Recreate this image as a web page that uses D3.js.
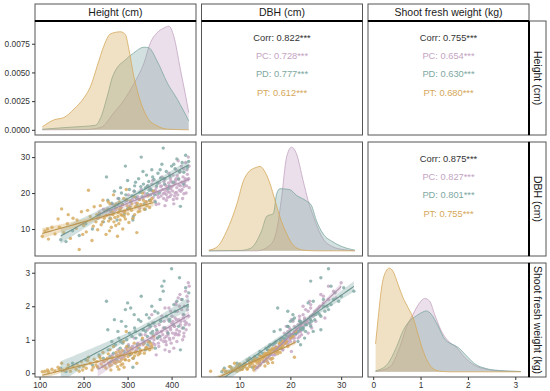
<!DOCTYPE html>
<html>
<head>
<meta charset="utf-8">
<script src="https://cdn.jsdelivr.net/npm/d3@7"></script>
<style>
  body { margin: 0; background: #fff; }
  svg { font-family: "Liberation Sans", Arial, sans-serif; }
</style>
</head>
<body>
<div id="chart"></div>
<script>
// ------- Data -------
const groups = ["PC", "PD", "PT"];
const groupColors = ["#c4a4c2", "#7ea8a2", "#d5a85a"];
const varNames = ["Height (cm)", "DBH (cm)", "Shoot fresh weight (kg)"];

// axis limits and ticks per variable
const varDomains = [[89.5, 455.5], [2.5, 34.2], [-0.11, 3.29]];
const varTicks = [[100, 200, 300, 400], [10, 20, 30], [0, 1, 2, 3]];
const heightDensTicks = [0, 0.0025, 0.005, 0.0075];

// correlations: pairs (Height,DBH), (Height,Weight), (DBH,Weight)
const corrAll = ["0.822", "0.755", "0.875"];
const corrPC = ["0.728", "0.654", "0.827"];
const corrPD = ["0.777", "0.630", "0.801"];
const corrPT = ["0.612", "0.680", "0.755"];

// trees: [height, dbh, shoot fresh weight]
const pcTrees = [
  [232,13.0,0.20],[245,15.5,0.35],[258,14.0,0.30],[265,17.0,0.55],[272,15.2,0.40],[278,18.5,0.70],
  [285,16.0,0.45],[290,14.8,0.50],[296,17.8,0.75],[302,19.5,0.85],[306,16.5,0.55],[311,18.2,0.80],
  [315,20.5,1.05],[319,17.2,0.65],[323,19.0,0.90],[327,15.8,0.60],[331,21.0,1.15],[335,18.6,0.85],
  [338,20.0,0.95],[342,17.5,0.75],[345,22.0,1.30],[348,19.4,0.95],[351,18.0,0.80],[354,20.8,1.05],
  [357,23.5,1.50],[360,19.8,1.00],[362,17.8,0.85],[365,21.5,1.20],[367,20.2,1.05],[370,18.8,0.90],
  [372,22.8,1.45],[374,20.5,1.10],[376,19.2,1.00],[378,24.5,1.70],[380,21.0,1.15],[382,18.5,0.95],
  [384,20.0,1.05],[386,22.2,1.35],[388,19.6,1.10],[390,21.8,1.25],[392,20.4,1.15],[394,25.5,1.95],
  [396,19.0,1.00],[398,21.2,1.30],[400,23.0,1.50],[402,20.6,1.20],[404,18.2,1.05],[406,22.5,1.40],
  [408,20.0,1.15],[410,26.5,2.10],[412,21.5,1.30],[414,19.5,1.15],[416,23.8,1.60],[418,20.8,1.25],
  [420,22.0,1.45],[422,27.5,2.20],[424,21.0,1.35],[426,24.5,1.75],[428,19.8,1.20],[430,23.2,1.55],
  [432,28.5,2.45],[434,22.0,1.50],[436,25.2,1.90],[438,30.0,2.70],[439,24.0,1.70],[440,21.5,1.45],
  [395,20.2,0.65],[405,17.0,0.75],[385,16.5,0.70],[415,29.0,2.25],[425,18.5,1.00],[375,21.8,1.60],
  [355,22.5,1.75],[365,16.8,0.55],[410,24.0,2.05],[435,26.5,2.30],[398,23.5,1.85],[418,25.8,2.00],
  [388,18.0,0.85],[428,21.8,1.10],[368,19.5,1.25],[408,22.8,1.65],
  [300,15.5,0.60],[320,18.5,0.70],[340,19.2,1.15],[350,21.5,1.35],[358,18.8,0.90],[363,20.8,1.40],
  [371,17.0,0.80],[377,22.0,1.25],[381,19.8,1.35],[383,23.2,1.55],[387,20.8,0.95],[391,18.8,1.20],
  [393,22.8,1.60],[397,24.2,1.35],[399,19.5,0.90],[401,21.8,1.70],[403,25.0,1.55],[407,19.2,1.40],
  [409,23.5,1.20],[411,20.2,1.60],[413,24.8,1.85],[417,22.2,1.15],[419,26.0,2.35],[421,20.5,1.55],
  [423,23.0,1.90],[427,26.8,1.65],[429,22.5,2.00],[431,24.0,1.45],[433,20.0,1.30],[437,23.8,2.15],
  [440,27.5,2.60],[412,18.5,0.95],[395,21.5,1.05],[385,24.0,1.95]
];
const pdTrees = [
  [148,7.0,0.15],[160,6.5,0.05],[175,9.5,0.30],[190,8.2,0.20],[205,11.5,0.40],[220,10.0,0.25],
  [235,13.8,0.55],[245,12.0,0.45],[252,24.5,2.15],[256,15.5,0.70],[260,13.0,0.50],[264,17.2,0.95],
  [268,14.5,0.60],[272,16.0,0.85],[276,12.5,0.40],[280,18.5,1.05],[283,15.2,0.75],[286,20.0,1.55],
  [289,16.8,0.90],[292,14.0,0.65],[295,27.5,1.90],[298,18.0,1.00],[301,15.8,0.80],[304,21.0,1.20],
  [307,17.5,1.95],[310,19.2,1.10],[313,13.5,0.45],[316,22.0,1.35],[319,18.8,1.05],[322,16.5,0.85],
  [325,24.0,1.60],[328,20.2,1.15],[331,30.0,2.30],[333,19.0,1.00],[336,22.5,1.30],[338,17.0,0.90],
  [341,21.5,1.25],[343,25.0,1.75],[345,19.8,1.10],[348,23.2,1.45],[350,18.0,0.95],[353,21.0,1.20],
  [355,26.5,2.00],[358,20.5,1.15],[360,23.8,1.50],[363,17.5,0.75],[366,22.0,1.30],[369,25.5,1.80],
  [372,20.0,1.10],[375,24.2,1.55],[378,28.0,2.60],[381,32.5,2.45],[384,22.5,1.35],[388,26.0,1.70],
  [392,21.2,1.20],[396,24.8,1.60],[400,27.5,3.12],[404,23.0,1.45],[408,26.8,1.85],[412,29.5,2.15],
  [416,24.0,1.40],[420,16.3,0.70],[424,28.5,2.20],[428,25.8,1.75],[432,30.5,2.55],[436,27.2,2.00],
  [439,28.8,2.40],[300,23.5,2.10],[270,20.5,1.60],[340,15.5,0.70],[312,12.5,0.18],[352,19.5,1.40],
  [255,18.0,1.30],[262,14.8,0.35],[278,16.8,1.25],[284,21.5,0.95],[296,19.5,1.40],[305,16.0,0.55],
  [315,20.5,1.75],[318,23.0,1.25],[326,18.2,0.75],[330,21.8,1.55],[335,26.0,1.30],[346,22.0,0.85],
  [349,20.8,1.65],[357,24.5,1.25],[362,19.5,1.85],[368,22.8,1.05],[374,26.5,2.20],[383,24.0,2.75],
  [395,22.0,1.55],[405,28.0,2.05],[418,26.0,2.85],[427,22.5,1.35]
];
const ptTrees = [
  [106,8.0,0.05],[112,9.5,0.06],[120,7.2,0.05],[128,10.5,0.12],[135,8.6,0.07],[142,12.8,0.18],
  [150,15.6,0.30],[155,9.0,0.08],[163,11.5,0.15],[170,7.4,0.06],[176,13.0,0.22],[183,10.2,0.12],
  [190,4.3,0.06],[195,14.8,0.35],[200,11.0,0.20],[206,9.2,0.15],[211,20.8,0.48],[215,13.5,0.30],
  [219,6.8,0.10],[224,16.2,0.42],[228,12.0,0.25],[232,9.8,0.18],[236,14.5,0.50],[240,11.2,0.28],
  [244,18.0,0.62],[247,13.0,0.35],[251,8.5,0.15],[254,15.5,0.45],[257,12.2,0.30],[260,17.0,0.70],
  [263,10.5,0.25],[266,14.0,0.40],[268,19.5,0.80],[271,13.2,0.38],[273,11.0,0.30],[275,15.8,0.55],
  [277,8.0,0.20],[279,14.6,0.48],[281,17.5,0.65],[283,12.5,0.35],[285,16.0,0.60],[287,13.8,0.42],
  [289,10.0,0.28],[291,18.5,0.95],[293,15.0,0.52],[295,12.8,0.40],[297,21.0,1.25],[299,16.5,0.70],
  [301,14.2,0.50],[303,11.8,0.38],[306,17.8,0.75],[309,15.2,0.58],[312,13.0,0.45],[315,19.0,0.90],
  [318,16.2,0.62],[321,9.0,0.30],[324,14.8,0.55],[327,18.2,0.85],[330,16.8,0.68],[334,20.0,1.05],
  [338,15.5,0.60],[342,17.6,0.78],[346,19.2,0.95],[350,16.0,0.70],[355,18.5,0.82],[359,20.5,1.10],
  [262,12.8,0.10],[280,11.5,0.12],[248,15.0,0.22],[292,13.5,0.18],[270,16.5,0.32],[285,14.0,0.25],
  [118,10.0,0.10],[145,10.5,0.12],[165,14.0,0.25],[185,12.5,0.28],[198,8.5,0.10],[209,15.2,0.38],
  [222,10.8,0.18],[230,14.0,0.35],[238,16.5,0.45],[243,12.0,0.20],[252,13.8,0.40],[256,17.5,0.58],
  [259,9.5,0.22],[265,15.0,0.48],[269,12.0,0.32],[274,17.0,0.62],[278,13.5,0.35],[282,15.5,0.55],
  [288,16.8,0.68],[294,14.5,0.42],[298,18.2,0.80],[305,15.8,0.65],[310,17.0,0.72],[316,14.0,0.52],
  [322,17.2,0.78],[328,15.0,0.60],[336,18.0,0.88],[344,16.5,0.75],[352,17.8,0.90]
];

// density curves: [x, density]
const heightDensPC = [[106,0],[201,0.00002],[239,0.0002],[269,0.0015],[292,0.0026],[314,0.004],[337,0.0058],
  [352,0.0076],[367,0.00845],[383,0.00888],[394,0.00903],[405,0.00816],[420,0.00527],[432,0.00295],[439,0.0015]];
const heightDensPD = [[106,0.00005],[160,0.0002],[200,0.0003],[227,0.0004],[239,0.00107],[254,0.00295],
  [265,0.00454],[276,0.0054],[292,0.006],[314,0.0067],[337,0.0072],[348,0.00715],[367,0.006],[390,0.0041],
  [413,0.00266],[439,0.00078]];
const heightDensPT = [[106,0.00026],[133,0.00087],[155,0.00107],[178,0.0018],[201,0.0028],[216,0.0038],
  [231,0.00556],[246,0.0073],[261,0.00836],[284,0.00854],[295,0.0083],[303,0.0070],[314,0.0047],[330,0.0024],
  [345,0.00107],[367,0.00035],[390,0.00006],[439,0]];

const dbhDensPC = [[3.95,0],[13.4,0],[16.0,0.0085],[17.3,0.031],[18.28,0.081],[19.25,0.141],[20.23,0.156],
  [21.2,0.146],[22.5,0.106],[23.48,0.076],[24.46,0.0535],[25.44,0.0335],[26.4,0.0185],[28.37,0.006],
  [30.3,0.002],[32.7,0]];
const dbhDensPD = [[3.95,0],[10.14,0.0005],[12.09,0.0035],[14.37,0.031],[15.35,0.052],[16.65,0.056],
  [17.3,0.086],[17.95,0.0935],[19.9,0.092],[21.2,0.0835],[23.16,0.075],[24.13,0.0685],[25.1,0.046],
  [26.4,0.026],[28.37,0.0135],[30.3,0.006],[32.7,0.001]];
const dbhDensPT = [[3.95,0.001],[5.58,0.006],[7.53,0.031],[9.49,0.071],[10.79,0.106],[11.76,0.1185],
  [13.07,0.125],[14.04,0.127],[15.02,0.1185],[16.0,0.101],[16.97,0.076],[17.95,0.051],[19.25,0.026],
  [20.55,0.0085],[22.5,0.001],[25.1,0],[32.7,0]];

const weightDensPC = [[0.05,0.005],[0.351,0.075],[0.561,0.375],[0.701,0.675],[0.841,0.875],[0.981,1.05],
  [1.086,1.115],[1.191,1.075],[1.296,0.875],[1.436,0.625],[1.576,0.475],[1.751,0.375],[1.926,0.225],
  [2.136,0.1],[2.381,0.04],[2.661,0.015],[3.117,0.005]];
const weightDensPD = [[0.05,0.015],[0.281,0.1],[0.491,0.375],[0.631,0.625],[0.771,0.775],[0.911,0.85],
  [1.051,0.91],[1.121,0.925],[1.226,0.875],[1.366,0.7],[1.506,0.5],[1.646,0.425],[1.786,0.375],
  [1.961,0.25],[2.136,0.125],[2.381,0.05],[2.661,0.02],[3.117,0.005]];
const weightDensPT = [[0.05,0.425],[0.106,0.825],[0.176,1.275],[0.267,1.525],[0.337,1.575],[0.421,1.525],
  [0.526,1.325],[0.631,1.125],[0.736,0.975],[0.841,0.825],[0.946,0.575],[1.051,0.325],[1.156,0.15],
  [1.261,0.05],[1.401,0.01],[1.611,0],[3.117,0]];

// ------- Layout -------
const W = 550, H = 391;
const colX = [35, 201.5, 368], pw = 161;
const rowY = [21, 142, 263], ph = 114;

const trees = [pcTrees, pdTrees, ptTrees];
const densities = [
  [heightDensPC, heightDensPD, heightDensPT],
  [dbhDensPC, dbhDensPD, dbhDensPT],
  [weightDensPC, weightDensPD, weightDensPT]
];
const corrGroups = [corrPC, corrPD, corrPT];

const svg = d3.select("#chart").append("svg")
  .attr("width", W).attr("height", H);

const xs = varDomains.map((d, i) => d3.scaleLinear().domain(d).range([colX[i], colX[i] + pw]));
const ys = varDomains.map((d, i) => d3.scaleLinear().domain(d).range([rowY[i] + ph, rowY[i]]));

// density y scales, 5% expansion around the curves
const densY = densities.map((set, i) => {
  const mx = d3.max(set, a => d3.max(a, d => d[1]));
  return d3.scaleLinear().domain([-0.05 * mx, 1.05 * mx]).range([rowY[i] + ph, rowY[i]]);
});

const defs = svg.append("defs");
for (let r = 0; r < 3; r++) {
  for (let c = 0; c < 3; c++) {
    defs.append("clipPath").attr("id", `clip-${r}-${c}`)
      .append("rect").attr("x", colX[c]).attr("y", rowY[r]).attr("width", pw).attr("height", ph);
  }
}

// simple least squares fit with confidence band
function lm(pts) {
  const n = pts.length;
  const mx = d3.mean(pts, p => p[0]), my = d3.mean(pts, p => p[1]);
  let sxx = 0, sxy = 0;
  pts.forEach(p => { sxx += (p[0] - mx) ** 2; sxy += (p[0] - mx) * (p[1] - my); });
  const b = sxy / sxx, a = my - b * mx;
  let sse = 0;
  pts.forEach(p => { sse += (p[1] - a - b * p[0]) ** 2; });
  const s2 = sse / (n - 2);
  const t = 1.98;
  return x => {
    const fit = a + b * x;
    const se = Math.sqrt(s2 * (1 / n + (x - mx) ** 2 / sxx));
    return [fit, fit - t * se, fit + t * se];
  };
}

// ------- Panels -------
for (let r = 0; r < 3; r++) {
  for (let c = 0; c < 3; c++) {
    const g = svg.append("g").attr("clip-path", `url(#clip-${r}-${c})`);
    g.append("rect").attr("x", colX[c]).attr("y", rowY[r])
      .attr("width", pw).attr("height", ph).attr("fill", "#fff");

    if (r === c) {
      // density
      const x = xs[c], y = densY[c];
      const area = d3.area().x(d => x(d[0])).y0(y(0)).y1(d => y(d[1])).curve(d3.curveMonotoneX);
      const line = d3.line().x(d => x(d[0])).y(d => y(d[1])).curve(d3.curveMonotoneX);
      groups.forEach((grp, gi) => {
        const dd = densities[c][gi];
        g.append("path").attr("d", area(dd))
          .attr("fill", groupColors[gi]).attr("fill-opacity", 0.35);
        g.append("path").attr("d", line(dd))
          .attr("fill", "none").attr("stroke", groupColors[gi]).attr("stroke-width", 0.8);
      });
    } else if (r > c) {
      // scatter + lm
      const x = xs[c], y = ys[r];
      groups.forEach((grp, gi) => {
        g.append("g").selectAll("circle")
          .data(trees[gi])
          .enter().append("circle")
          .attr("cx", d => x(d[c]))
          .attr("cy", d => y(d[r]))
          .attr("r", 1.7)
          .attr("fill", groupColors[gi])
          .attr("opacity", 0.8);
      });
      groups.forEach((grp, gi) => {
        const pts = trees[gi].map(d => [d[c], d[r]]);
        const f = lm(pts);
        const ext = d3.extent(pts, p => p[0]);
        const grid = d3.range(41).map(i => ext[0] + (ext[1] - ext[0]) * i / 40);
        const fits = grid.map(v => [v, ...f(v)]);
        g.append("path")
          .attr("d", d3.area().x(d => x(d[0])).y0(d => y(d[2])).y1(d => y(d[3]))(fits))
          .attr("fill", groupColors[gi]).attr("fill-opacity", 0.35);
        g.append("path")
          .attr("d", d3.line().x(d => x(d[0])).y(d => y(d[1]))(fits))
          .attr("fill", "none")
          .attr("stroke", d3.color(groupColors[gi]).darker(0.35))
          .attr("stroke-width", 1.1);
      });
    } else {
      // correlation text
      const k = r === 0 ? (c === 1 ? 0 : 1) : 2;
      const lines = [["Corr: " + corrAll[k] + "***", "#333"]]
        .concat(groups.map((grp, gi) => [grp + ": " + corrGroups[gi][k] + "***", groupColors[gi]]));
      g.selectAll("text.corr")
        .data(lines)
        .enter().append("text")
        .attr("x", colX[c] + pw / 2)
        .attr("y", (d, i) => rowY[r] + 16.5 + i * 18.3)
        .attr("dy", "0.35em")
        .attr("text-anchor", "middle")
        .attr("font-size", "9.3px")
        .attr("fill", d => d[1])
        .text(d => d[0]);
    }

    svg.append("rect").attr("x", colX[c]).attr("y", rowY[r])
      .attr("width", pw).attr("height", ph)
      .attr("fill", "none").attr("stroke", "#555").attr("stroke-width", 1);
  }
}

// ------- Strips -------
varNames.forEach((name, i) => {
  // top
  svg.append("rect").attr("x", colX[i]).attr("y", 4).attr("width", pw).attr("height", 17)
    .attr("fill", "#fff").attr("stroke", "#555").attr("stroke-width", 1);
  svg.append("line").attr("x1", colX[i]).attr("x2", colX[i] + pw).attr("y1", 21).attr("y2", 21)
    .attr("stroke", "#000").attr("stroke-width", 2);
  svg.append("text").attr("x", colX[i] + pw / 2).attr("y", 12.5).attr("dy", "0.35em")
    .attr("text-anchor", "middle").attr("font-size", "10.5px").attr("fill", "#1a1a1a").text(name);

  // right
  const sx = colX[2] + pw;
  svg.append("rect").attr("x", sx).attr("y", rowY[i]).attr("width", 17).attr("height", ph)
    .attr("fill", "#fff").attr("stroke", "#555").attr("stroke-width", 1);
  svg.append("line").attr("x1", sx).attr("x2", sx).attr("y1", rowY[i]).attr("y2", rowY[i] + ph)
    .attr("stroke", "#000").attr("stroke-width", 2);
  svg.append("text")
    .attr("transform", `translate(${sx + 8.5},${rowY[i] + ph / 2}) rotate(90)`)
    .attr("dy", "0.35em").attr("text-anchor", "middle")
    .attr("font-size", "10.5px").attr("fill", "#1a1a1a").text(name);
});

// ------- Axes -------
function styleAxis(sel) {
  sel.attr("font-family", null).attr("font-size", null);
  sel.select(".domain").remove();
  sel.selectAll(".tick line").attr("stroke", "#333");
  sel.selectAll(".tick text").attr("fill", "#333").attr("font-size", "8.3px");
}

for (let c = 0; c < 3; c++) {
  svg.append("g")
    .attr("transform", `translate(0,${rowY[2] + ph})`)
    .call(d3.axisBottom(xs[c]).tickValues(varTicks[c]).tickSize(3).tickPadding(2).tickFormat(d3.format("d")))
    .call(styleAxis);
}

svg.append("g")
  .attr("transform", `translate(${colX[0]},0)`)
  .call(d3.axisLeft(densY[0]).tickValues(heightDensTicks).tickSize(3).tickPadding(2).tickFormat(d3.format(".4f")))
  .call(styleAxis);
for (let r = 1; r < 3; r++) {
  svg.append("g")
    .attr("transform", `translate(${colX[0]},0)`)
    .call(d3.axisLeft(ys[r]).tickValues(varTicks[r]).tickSize(3).tickPadding(2).tickFormat(d3.format("d")))
    .call(styleAxis);
}
</script>
</body>
</html>
